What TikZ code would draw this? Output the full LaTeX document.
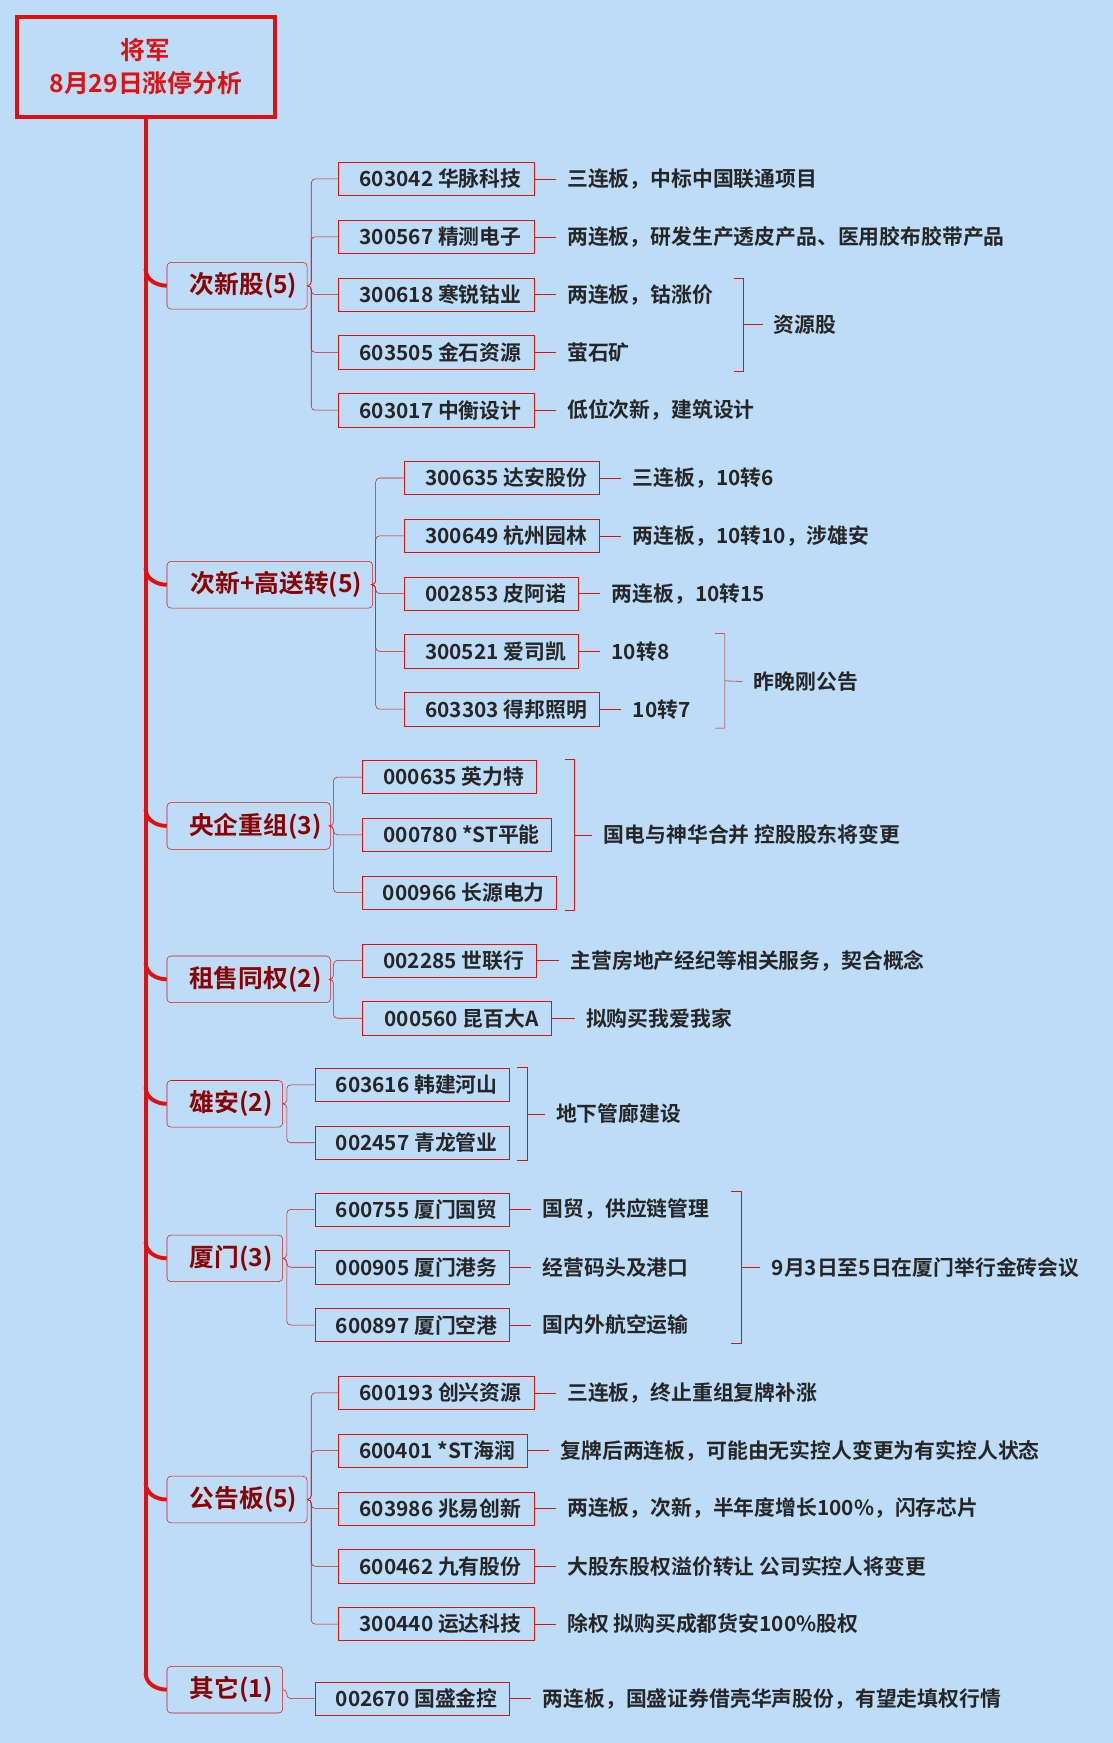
\documentclass[tikz,border=0pt]{standalone}
\usepackage{fontspec}
\setmainfont{Noto Sans CJK SC Bold}
\definecolor{bgblue}{HTML}{BCDCF7}
\definecolor{linered}{HTML}{E01010}
\definecolor{catred}{HTML}{8B0000}
\tikzset{
  cat/.style={draw=linered, fill=bgblue, rounded corners=3pt, anchor=west, inner sep=0pt,
    minimum height=42*0.03cm, minimum width=#1*0.03cm, text=catred, font=\fontsize{19}{21}\selectfont},
  stock/.style={draw=linered, fill=bgblue, anchor=west, inner sep=0pt, align=left,
    minimum height=30*0.03cm, minimum width=#1*0.03cm, text=black!85, font=\fontsize{16}{18}\selectfont},
  note/.style={anchor=west, inner sep=0pt, text=black!85, font=\fontsize{16}{18}\selectfont},
  tree/.style={draw=linered, thin},
  trunk/.style={draw=linered, line width=3pt}
}
\begin{document}
\begin{tikzpicture}[x=0.03cm, y=-0.03cm]
  \path[use as bounding box, fill=bgblue] (0,0) rectangle (1001,1568);

  \node (title) [draw=linered, line width=3pt, fill=bgblue, minimum width=232*0.03cm, minimum height=90*0.03cm,
    text=linered, align=center, font=\fontsize{19}{25}\selectfont] at (131,60) {将军\\8月29日涨停分析};

  % categories
  \node (c1) [cat=126] at (150,257) {\hspace*{10pt}次新股(5)\hfill};
  \node (c2) [cat=185] at (150,526) {\hspace*{10pt}次新+高送转(5)\hfill};
  \node (c3) [cat=147] at (150,743) {\hspace*{10pt}央企重组(3)\hfill};
  \node (c4) [cat=147] at (150,881) {\hspace*{10pt}租售同权(2)\hfill};
  \node (c5) [cat=104] at (150,993) {\hspace*{10pt}雄安(2)\hfill};
  \node (c6) [cat=104] at (150,1132) {\hspace*{10pt}厦门(3)\hfill};
  \node (c7) [cat=126] at (150,1349) {\hspace*{10pt}公告板(5)\hfill};
  \node (c8) [cat=104] at (150,1520) {\hspace*{10pt}其它(1)\hfill};

  \draw[trunk] (title.south) -- (131,1505);
  \foreach \c in {c1,c2,c3,c4,c5,c6,c7,c8}
    \draw[trunk] ([yshift=0.45cm]\c.west -| 131,0) to[out=-90,in=180] (\c.west);

  % stocks
  \node (s11) [stock=176] at (304,161) {\hspace*{7pt}603042 华脉科技};
  \node (s12) [stock=176] at (304,213) {\hspace*{7pt}300567 精测电子};
  \node (s13) [stock=176] at (304,265) {\hspace*{7pt}300618 寒锐钴业};
  \node (s14) [stock=176] at (304,317) {\hspace*{7pt}603505 金石资源};
  \node (s15) [stock=176] at (304,369) {\hspace*{7pt}603017 中衡设计};
  \node (s21) [stock=176] at (363,430) {\hspace*{7pt}300635 达安股份};
  \node (s22) [stock=176] at (363,482) {\hspace*{7pt}300649 杭州园林};
  \node (s23) [stock=157] at (363,534) {\hspace*{7pt}002853 皮阿诺};
  \node (s24) [stock=157] at (363,586) {\hspace*{7pt}300521 爱司凯};
  \node (s25) [stock=176] at (363,638) {\hspace*{7pt}603303 得邦照明};
  \node (s31) [stock=156] at (326,699) {\hspace*{7pt}000635 英力特};
  \node (s32) [stock=170] at (326,751) {\hspace*{7pt}000780 *ST平能};
  \node (s33) [stock=174] at (326,803) {\hspace*{7pt}000966 长源电力};
  \node (s41) [stock=156] at (326,864) {\hspace*{7pt}002285 世联行};
  \node (s42) [stock=170] at (326,916) {\hspace*{7pt}000560 昆百大A};
  \node (s51) [stock=175] at (283,976) {\hspace*{7pt}603616 韩建河山};
  \node (s52) [stock=175] at (283,1028) {\hspace*{7pt}002457 青龙管业};
  \node (s61) [stock=175] at (283,1088) {\hspace*{7pt}600755 厦门国贸};
  \node (s62) [stock=175] at (283,1140) {\hspace*{7pt}000905 厦门港务};
  \node (s63) [stock=175] at (283,1192) {\hspace*{7pt}600897 厦门空港};
  \node (s71) [stock=176] at (304,1253) {\hspace*{7pt}600193 创兴资源};
  \node (s72) [stock=170] at (304,1305) {\hspace*{7pt}600401 *ST海润};
  \node (s73) [stock=176] at (304,1357) {\hspace*{7pt}603986 兆易创新};
  \node (s74) [stock=176] at (304,1409) {\hspace*{7pt}600462 九有股份};
  \node (s75) [stock=176] at (304,1461) {\hspace*{7pt}300440 运达科技};
  \node (s81) [stock=175] at (283,1528) {\hspace*{7pt}002670 国盛金控};

  % tree lines
  \foreach \c/\tx/\list in {c1/280/{s11,s12,s13,s14,s15}, c2/338/{s21,s22,s23,s24,s25},
      c3/300/{s31,s32,s33}, c4/300/{s41,s42}, c5/258/{s51,s52}, c6/258/{s61,s62,s63},
      c7/280/{s71,s72,s73,s74,s75}, c8/258/{s81}}
    \foreach \s in \list
      \draw[tree, rounded corners=3pt] (\c.east) -- (\c.east -| \tx,0) |- (\s.west);

  % notes
  \node (n11) [note] at (510,161) {三连板，中标中国联通项目};
  \node (n12) [note] at (510,213) {两连板，研发生产透皮产品、医用胶布胶带产品};
  \node (n13) [note] at (510,265) {两连板，钴涨价};
  \node (n14) [note] at (510,317) {萤石矿};
  \node (n15) [note] at (510,369) {低位次新，建筑设计};
  \node (n21) [note] at (569,430) {三连板，10转6};
  \node (n22) [note] at (569,482) {两连板，10转10，涉雄安};
  \node (n23) [note] at (550,534) {两连板，10转15};
  \node (n24) [note] at (550,586) {10转8};
  \node (n25) [note] at (569,638) {10转7};
  \node (n41) [note] at (513,864) {主营房地产经纪等相关服务，契合概念};
  \node (n42) [note] at (527,916) {拟购买我爱我家};
  \node (n61) [note] at (488,1088) {国贸，供应链管理};
  \node (n62) [note] at (488,1140) {经营码头及港口};
  \node (n63) [note] at (488,1192) {国内外航空运输};
  \node (n71) [note] at (510,1253) {三连板，终止重组复牌补涨};
  \node (n72) [note] at (504,1305) {复牌后两连板，可能由无实控人变更为有实控人状态};
  \node (n73) [note] at (510,1357) {两连板，次新，半年度增长100\%，闪存芯片};
  \node (n74) [note] at (510,1409) {大股东股权溢价转让 公司实控人将变更};
  \node (n75) [note] at (510,1461) {除权 拟购买成都货安100\%股权};
  \node (n81) [note] at (488,1528) {两连板，国盛证券借壳华声股份，有望走填权行情};
  \foreach \s/\n in {s11/n11,s12/n12,s13/n13,s14/n14,s15/n15,s21/n21,s22/n22,s23/n23,s24/n24,s25/n25,
      s41/n41,s42/n42,s61/n61,s62/n62,s63/n63,s71/n71,s72/n72,s73/n73,s74/n74,s75/n75,s81/n81}
    \draw[tree] (\s.east) -- ([xshift=-0.3cm]\n.west);

  % brackets
  \node (g1) [note] at (696,292) {资源股};
  \node (g2) [note] at (678,613) {昨晚刚公告};
  \node (g3) [note] at (543,751) {国电与神华合并 控股股东将变更};
  \node (g5) [note] at (500,1002) {地下管廊建设};
  \node (g6) [note] at (694,1140) {9月3日至5日在厦门举行金砖会议};
  \foreach \g/\xa/\ya/\yb in {g1/660/250/334, g2/643/570/655, g3/508/683/819, g5/465/960/1044, g6/658/1072/1208}
    \draw[tree, linered] (\xa,\ya) -- (\xa+9,\ya) -- (\xa+9,\yb) -- (\xa,\yb)
      (\xa+9,\ya/2+\yb/2) -- ([xshift=-0.3cm]\g.west);
\end{tikzpicture}
\end{document}
